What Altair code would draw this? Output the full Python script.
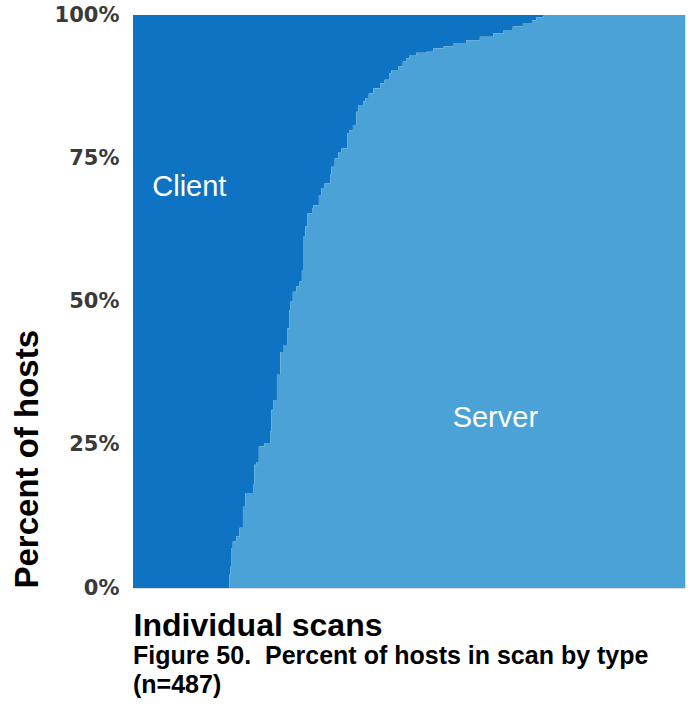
import altair as alt
import pandas as pd

# Step boundary: scan index where a run starts, server % for that run
scan_start = [0, 85, 86, 87, 88, 91, 94, 97, 99, 106,
              107, 109, 111, 116, 121, 122, 124, 127, 130, 133,
              136, 138, 139, 141, 144, 147, 149, 150, 152, 154,
              158, 159, 164, 166, 169, 174, 175, 178, 181, 184,
              189, 191, 194, 197, 199, 203, 205, 208, 212, 218,
              222, 226, 228, 234, 238, 241, 244, 250, 259, 265,
              274, 283, 294, 306, 318, 327, 335, 344, 352, 356,
              362, 365, 487]
server_pct = [0, 2.3, 3.7, 7.0, 8.1, 9.0, 10.5, 14.2, 16.6, 18.0,
              21.5, 22.0, 24.7, 25.3, 27.3, 31.1, 32.8, 37.2, 41.2, 42.4,
              45.3, 48.5, 50.0, 51.7, 52.6, 53.5, 55.5, 61.3, 63.1, 65.4,
              66.3, 66.8, 68.6, 69.8, 70.6, 72.1, 73.5, 75.0, 76.1, 76.7,
              79.4, 79.9, 80.8, 83.1, 84.3, 84.9, 85.5, 86.3, 87.2, 88.1,
              88.7, 89.8, 90.4, 91.0, 91.9, 92.4, 93.0, 93.4, 93.6, 94.2,
              94.5, 95.1, 95.6, 96.2, 96.8, 97.4, 98.0, 98.6, 99.1, 99.6,
              99.9, 100, 100]

label_text = ["Client", "Server"]
label_x = [17, 282]
label_y = [70, 29.7]

y_ticks = [0, 25, 50, 75, 100]

CLIENT = "#0e73c2"
SERVER = "#4aa2d7"
FONT = "Liberation Sans"

df = pd.DataFrame({"scan": scan_start, "server": server_pct})
df["full"] = 100
labels = pd.DataFrame({"t": label_text, "x": label_x, "y": label_y})

xs = alt.Scale(domain=[0, 487], nice=False, zero=False)
ys = alt.Scale(domain=[0, 100], nice=False)

x_enc = alt.X("scan:Q", scale=xs, axis=alt.Axis(
    title="Individual scans", labels=False, ticks=False, domain=False, grid=False,
    titleFont=FONT, titleFontSize=32, titleFontWeight="bold", titleColor="#000",
    titleX=0, titleY=47, titleAlign="left", titleBaseline="alphabetic"))

client = alt.Chart(df).mark_area(interpolate="step-after", color=CLIENT).encode(
    x=x_enc,
    y=alt.Y("full:Q", scale=ys, axis=alt.Axis(
        title="Percent of hosts", values=y_ticks, format=".0f",
        labelExpr="datum.value + '%'", ticks=False, domain=False, grid=False,
        labelPadding=14, labelFont="DejaVu Sans", labelFontWeight="bold",
        labelFontSize=21, labelColor="#3a3a3a",
        titleFont=FONT, titleFontSize=33, titleFontWeight="bold", titleColor="#000",
        titleAngle=270, titleX=-106, titleY=573, titleAlign="left",
        titleBaseline="middle")),
    y2="server:Q",
)

server = alt.Chart(df).mark_area(interpolate="step-after", color=SERVER).encode(
    x=alt.X("scan:Q", scale=xs),
    y=alt.Y("server:Q", scale=ys),
)

text = alt.Chart(labels).mark_text(
    align="left", baseline="middle", color="white", font=FONT, fontSize=29
).encode(x=alt.X("x:Q", scale=xs), y=alt.Y("y:Q", scale=ys), text="t:N")

chart = alt.layer(client, server, text).properties(
    width=552, height=573,
    autosize=alt.AutoSizeParams(type="none"),
    padding={"left": 133, "top": 15, "right": 14, "bottom": 130},
    title=alt.TitleParams(
        text=["Figure 50.\u00a0 Percent of hosts in scan by type", "(n=487)"],
        orient="bottom", anchor="start", frame="group", offset=3,
        font=FONT, fontSize=25, fontWeight="bold", color="#000",
        lineHeight=29),
).configure_view(stroke="#3d5a78", strokeWidth=1).configure(background="white")

chart.save("out.html", embed_options={"renderer": "svg", "actions": False})
